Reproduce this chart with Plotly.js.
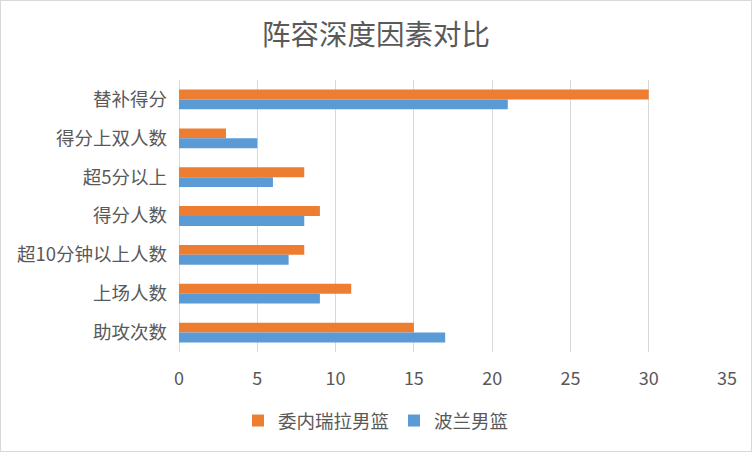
<!DOCTYPE html>
<html><head><meta charset="utf-8">
<script src="https://cdn.plot.ly/plotly-3.0.1.min.js"></script>
<style>
html,body{margin:0;padding:0;background:#fff;}
#wrap{position:relative;width:752px;height:452px;}
#chart{width:752px;height:452px;}
#frame{position:absolute;left:0;top:0;width:752px;height:452px;box-sizing:border-box;border:1px solid #d9d9d9;pointer-events:none;}
</style>
</head><body>
<div id="wrap"><div id="chart"></div><div id="frame"></div></div>
<script>
const categories = ["替补得分","得分上双人数","超5分以上","得分人数","超10分钟以上人数","上场人数","助攻次数"];
const seriesNames = ["委内瑞拉男篮","波兰男篮"];
const venezuela = [30,3,8,9,8,11,15];
const poland = [21,5,6,8,7,9,17];
const xTicks = [0,5,10,15,20,25,30,35];

const font = "'Noto Sans CJK SC', 'Noto Sans', sans-serif";
const grey = "#595959";

const traces = [
  {type:'bar', orientation:'h', name:seriesNames[0], y:categories, x:venezuela, marker:{color:'#ED7D31'}, hoverinfo:'none'},
  {type:'bar', orientation:'h', name:seriesNames[1], y:categories, x:poland, marker:{color:'#5B9BD5'}, hoverinfo:'none'}
];

const layout = {
  width:752, height:452,
  margin:{l:179, r:25, t:80, b:100, pad:0},
  paper_bgcolor:'#fff', plot_bgcolor:'#fff',
  font:{family:font, color:grey, size:18.5},
  title:{text:'阵容深度因素对比', font:{family:font, size:28.5, color:grey}, x:0.5, xref:'container', xanchor:'center', y:1-35/452, yanchor:'middle', yref:'container'},
  barmode:'group', bargap:0.49, bargroupgap:0,
  xaxis:{range:[0,35], tickvals:xTicks, ticktext:xTicks.map(String), showgrid:true, gridcolor:'#d9d9d9', gridwidth:1,
         zeroline:true, zerolinecolor:'#d9d9d9', zerolinewidth:1, showline:false, ticks:'', ticklabelstandoff:14,
         tickfont:{size:18, color:grey, family:font}, fixedrange:true},
  yaxis:{type:'category', categoryorder:'array', categoryarray:categories, autorange:'reversed', showgrid:false, zeroline:false,
         showline:false, ticks:'', ticklabelstandoff:11, tickfont:{size:18.5, color:grey, family:font}, fixedrange:true},
  legend:{orientation:'h', x:0.5, xref:'container', xanchor:'center', yref:'container', y:1-421/452, yanchor:'middle',
          font:{size:18.5, color:grey, family:font}, itemwidth:30, tracegroupgap:0, itemclick:false},
  showlegend:true
};

Plotly.newPlot('chart', traces, layout, {staticPlot:true, displayModeBar:false});
</script>
</body></html>
